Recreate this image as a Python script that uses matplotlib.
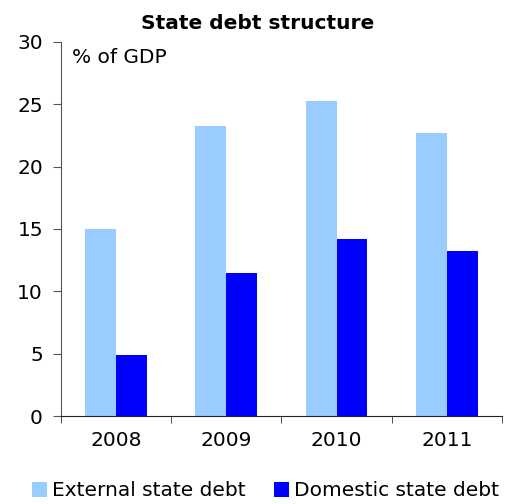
import numpy as np
import matplotlib.pyplot as plt

years = ['2008', '2009', '2010', '2011']
external = [15.0, 23.3, 25.3, 22.7]
domestic = [4.9, 11.5, 14.2, 13.2]

fig = plt.figure(figsize=(5.05, 5.04), dpi=100)
ax = fig.add_axes([0.1208, 0.1746, 0.8732, 0.7421])

x = np.arange(len(years))
w = 0.28
ax.bar(x - w/2, external, w, color='#99CCFF', label='External state debt')
ax.bar(x + w/2, domestic, w, color='#0000FF', label='Domestic state debt')

ax.set_xlim(-0.5, 3.5)
ax.set_ylim(0, 30)
ax.set_yticks(range(0, 31, 5))
ax.set_xticks(x)
ax.set_xticklabels(years)
ax.set_xticks(np.arange(-0.5, 3.6, 1), minor=True)
ax.tick_params(axis='x', which='major', length=0, pad=11, labelsize=14.5)
ax.tick_params(axis='x', which='minor', length=5, direction='out', color='#333333')
ax.tick_params(axis='y', length=6, direction='out', color='#555555', labelsize=14.5, pad=7)

for s in ['top', 'right']:
    ax.spines[s].set_visible(False)
ax.spines['left'].set_color('#555555')
ax.spines['bottom'].set_color('#222222')

ax.text(0.025, 0.985, '% of GDP', transform=ax.transAxes, fontsize=14.5, va='top')
fig.text(0.51, 0.954, 'State debt structure', ha='center', va='center',
         fontsize=14.5, fontweight='bold')

fig.legend(loc='center', bbox_to_anchor=(0.525, 0.026), ncol=2, frameon=False,
           fontsize=14.5, handlelength=0.75, handleheight=0.75, handletextpad=0.25,
           columnspacing=1.4, borderpad=0)

fig.savefig('out.png')
